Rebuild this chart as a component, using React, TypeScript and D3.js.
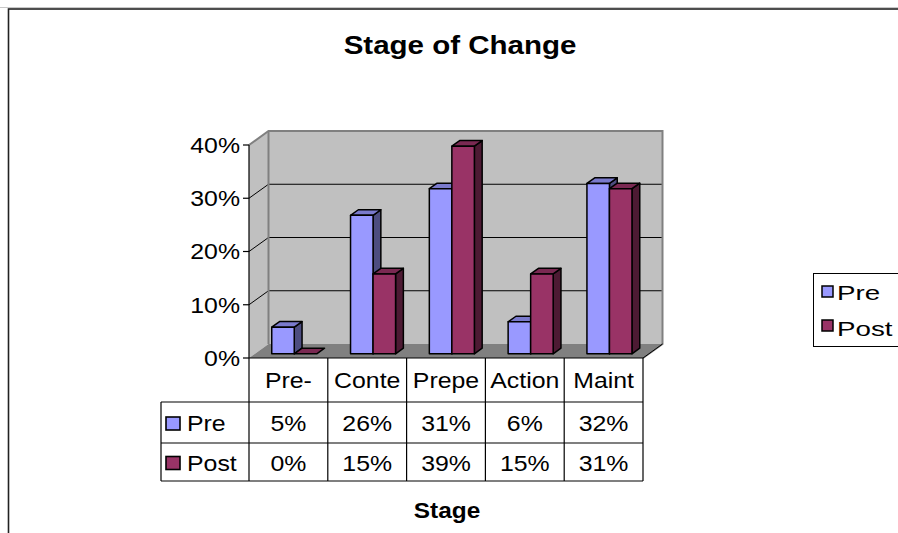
import React from "react";
import * as d3 from "d3";

const categories = ["Pre-", "Conte", "Prepe", "Action", "Maint"];
const preValues = [5, 26, 31, 6, 32];
const postValues = [0, 15, 39, 15, 31];
const seriesNames = ["Pre", "Post"];
const yTicks = [0, 10, 20, 30, 40];

const W = 898;
const H = 533;
const FONT = "'Liberation Sans', Arial, sans-serif";

const colors = {
  Pre: { front: "#9999FF", top: "#7A7ACC", side: "#4D4D80" },
  Post: { front: "#993366", top: "#7A2952", side: "#4D1A33" },
};

type TProps = {
  x: number;
  y: number;
  sx?: number;
  fs: number;
  anchor?: "start" | "middle" | "end";
  bold?: boolean;
  children: React.ReactNode;
};

function T({ x, y, sx = 1.13, fs, anchor = "start", bold = false, children }: TProps) {
  return (
    <text
      transform={`translate(${x},${y}) scale(${sx},1)`}
      dy="0.36em"
      textAnchor={anchor}
      fontSize={fs}
      fontWeight={bold ? "bold" : "normal"}
    >
      {children}
    </text>
  );
}

export default function App() {
  const x = d3.scaleBand<string>().domain(categories).range([249, 643]).paddingInner(0).paddingOuter(0);
  const y = d3.scaleLinear().domain([0, 40]).range([358, 145]);
  const DX = 19.5;
  const DY = -14;
  const fx = DX * 0.3, fy = DY * 0.3;
  const ddx = DX * 0.4, ddy = DY * 0.4;
  const bw = x.bandwidth() / 3.5;
  const x0 = 249, x1 = 643;
  const yTop = y(40), yBot = y(0);

  const series = [
    { name: seriesNames[0], values: preValues, c: colors.Pre },
    { name: seriesNames[1], values: postValues, c: colors.Post },
  ];

  const fs = 22;
  const rowY = [yBot, 402, 443, 481];
  const tableLeft = 161;

  const bars: React.ReactNode[] = [];
  categories.forEach((cat, ci) => {
    series.forEach((s, si) => {
      const v = s.values[ci];
      const bx = (x(cat) as number) + 0.75 * bw + si * bw + fx;
      const yt = y(v) + fy;
      const yb = yBot + fy;
      const h = yb - yt;
      const pt = (a: number, b: number) => `${a},${b}`;
      bars.push(
        <g key={`${ci}-${si}`} stroke="#000" strokeWidth={1.5} strokeLinejoin="round">
          {h > 0.5 && (
            <polygon
              fill={s.c.side}
              points={[pt(bx + bw, yt), pt(bx + bw + ddx, yt + ddy), pt(bx + bw + ddx, yb + ddy), pt(bx + bw, yb)].join(" ")}
            />
          )}
          <polygon
            fill={s.c.top}
            points={[pt(bx, yt), pt(bx + ddx, yt + ddy), pt(bx + bw + ddx, yt + ddy), pt(bx + bw, yt)].join(" ")}
          />
          {h > 0.5 && <rect x={bx} y={yt} width={bw} height={h} fill={s.c.front} />}
        </g>
      );
    });
  });

  return (
    <svg width={W} height={H} style={{ position: "absolute", left: 0, top: 0, background: "#fff" }} fontFamily={FONT}>
      <line x1={0} x2={W} y1={7.5} y2={7.5} stroke="#c8c8c8" strokeWidth={1} />
      <rect x={8.5} y={9} width={1200} height={1200} fill="#fff" stroke="#222" strokeWidth={1.6} />
      <T x={460} y={45} fs={26} anchor="middle" bold sx={1.135}>Stage of Change</T>

      {/* side wall */}
      <polygon points={`${x0},${yTop} ${x0 + DX},${yTop + DY} ${x0 + DX},${yBot + DY} ${x0},${yBot}`} fill="#C0C0C0" />
      {/* back wall */}
      <rect x={x0 + DX} y={yTop + DY} width={x1 - x0} height={yBot - yTop} fill="#C0C0C0" />
      {/* floor */}
      <polygon points={`${x0},${yBot} ${x0 + DX},${yBot + DY} ${x1 + DX},${yBot + DY} ${x1},${yBot}`} fill="#808080" />
      {/* gridlines */}
      {yTicks.filter((t) => t > 0 && t < 40).map((t) => (
        <g key={t} stroke="#000" strokeWidth={1}>
          <line x1={x0} y1={y(t)} x2={x0 + DX} y2={y(t) + DY} />
          <line x1={x0 + DX} y1={y(t) + DY} x2={x1 + DX} y2={y(t) + DY} />
        </g>
      ))}
      {/* wall borders */}
      <g stroke="#808080" strokeWidth={2} fill="none">
        <polyline points={`${x0},${yTop} ${x0 + DX},${yTop + DY} ${x1 + DX},${yTop + DY} ${x1 + DX},${yBot + DY} ${x1},${yBot}`} />
        <line x1={x0 + DX} y1={yTop + DY} x2={x0 + DX} y2={yBot + DY} />
      </g>
      <line x1={x1} y1={yBot} x2={x1 + DX} y2={yBot + DY} stroke="#000" strokeWidth={1} />

      {bars}

      {/* y axis */}
      <line x1={x0} x2={x0} y1={yTop} y2={yBot} stroke="#000" strokeWidth={1.2} />
      {yTicks.map((t) => (
        <g key={t}>
          <line x1={x0 - 6} x2={x0} y1={y(t)} y2={y(t)} stroke="#000" strokeWidth={1.2} />
          <T x={x0 - 9} y={y(t)} fs={fs} anchor="end">{`${t}%`}</T>
        </g>
      ))}

      {/* data table */}
      <g stroke="#000" strokeWidth={1.2}>
        <line x1={x0} x2={x1} y1={rowY[0]} y2={rowY[0]} />
        {[1, 2, 3].map((r) => (
          <line key={r} x1={tableLeft} x2={x1} y1={rowY[r]} y2={rowY[r]} />
        ))}
        <line x1={tableLeft} x2={tableLeft} y1={rowY[1]} y2={rowY[3]} />
        {categories.map((c) => (
          <line key={c} x1={x(c) as number} x2={x(c) as number} y1={rowY[0]} y2={rowY[3]} />
        ))}
        <line x1={x1} x2={x1} y1={rowY[0]} y2={rowY[3]} />
      </g>
      {categories.map((c) => (
        <T key={c} x={(x(c) as number) + x.bandwidth() / 2} y={(rowY[0] + rowY[1]) / 2} fs={fs} anchor="middle">{c}</T>
      ))}
      {series.map((s, si) => {
        const cy = (rowY[si + 1] + rowY[si + 2]) / 2 + 1;
        return (
          <g key={s.name}>
            <rect x={166} y={cy - 6.5} width={14} height={13} fill={s.c.front} stroke="#000" strokeWidth={1.6} />
            <T x={187} y={cy} fs={fs}>{s.name}</T>
            {categories.map((c, ci) => (
              <T key={c} x={(x(c) as number) + x.bandwidth() / 2} y={cy} fs={fs} anchor="middle">{`${s.values[ci]}%`}</T>
            ))}
          </g>
        );
      })}
      <T x={447} y={510} fs={fs} anchor="middle" bold sx={1.11}>Stage</T>

      {/* legend */}
      <rect x={813.5} y={273.5} width={200} height={73} fill="#fff" stroke="#000" strokeWidth={1} />
      {series.map((s, si) => (
        <g key={s.name}>
          <rect x={822} y={286 + si * 34} width={11} height={11} fill={s.c.front} stroke="#000" strokeWidth={1.5} />
          <T x={837} y={292 + si * 36} fs={21} sx={1.32}>{s.name}</T>
        </g>
      ))}
    </svg>
  );
}
